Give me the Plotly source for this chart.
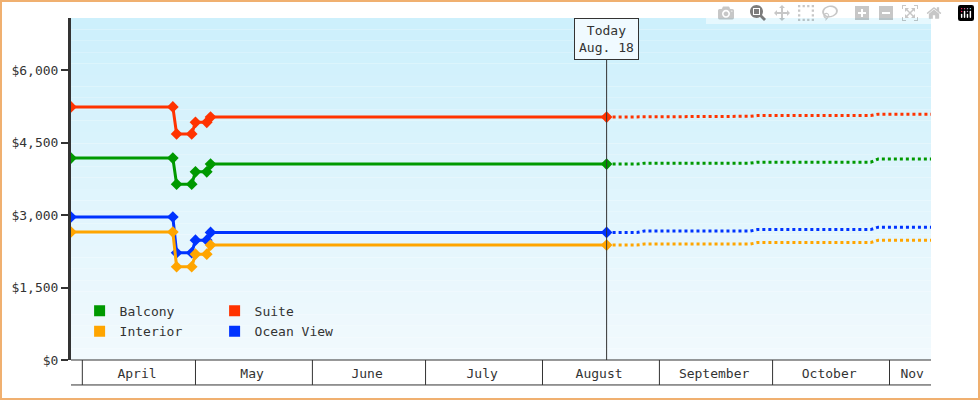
import plotly.graph_objects as go

# price history
hist_dates = ['2025-03-29', '2025-04-25', '2025-04-26', '2025-04-30', '2025-05-01', '2025-05-04', '2025-05-05', '2025-08-18']
suite = [5240, 5240, 4680, 4680, 4920, 4920, 5030, 5030]
balcony = [4180, 4180, 3640, 3640, 3895, 3895, 4055, 4055]
ocean = [2960, 2960, 2220, 2220, 2480, 2480, 2640, 2640]
interior = [2650, 2650, 1930, 1930, 2190, 2190, 2380, 2380]

# projection
proj_dates = ['2025-08-18', '2025-08-26', '2025-08-28', '2025-09-25', '2025-09-27', '2025-10-27', '2025-10-29', '2025-11-12']
suite_p = [5030, 5030, 5045, 5045, 5060, 5060, 5090, 5090]
balcony_p = [4055, 4055, 4075, 4075, 4095, 4095, 4160, 4160]
ocean_p = [2640, 2640, 2670, 2670, 2700, 2700, 2750, 2750]
interior_p = [2380, 2380, 2400, 2400, 2430, 2430, 2480, 2480]

month_starts = ['2025-04-01', '2025-05-01', '2025-06-01', '2025-07-01', '2025-08-01', '2025-09-01', '2025-10-01', '2025-11-01']
month_mids = ['2025-04-15 12:00', '2025-05-16', '2025-06-15 12:00', '2025-07-16', '2025-08-16', '2025-09-15 12:00', '2025-10-16', '2025-11-07']
month_names = ['April', 'May', 'June', 'July', 'August', 'September', 'October', 'Nov']

series = [
    ('Suite', '#ff3300', suite, suite_p),
    ('Balcony', '#009900', balcony, balcony_p),
    ('Ocean View', '#0033ff', ocean, ocean_p),
    ('Interior', '#ffa500', interior, interior_p),
]

fig = go.Figure()
for name, color, h, p in series:
    fig.add_trace(go.Scatter(x=hist_dates, y=h, mode='lines+markers', showlegend=False,
                             line=dict(color=color, width=3),
                             marker=dict(symbol='diamond', size=9, color=color)))
    fig.add_trace(go.Scatter(x=proj_dates, y=p, mode='lines', showlegend=False,
                             line=dict(color=color, width=3, dash='dot')))

for name, color, leg in [('Balcony', '#009900', 'legend'), ('Suite', '#ff3300', 'legend'),
                         ('Interior', '#ffa500', 'legend2'), ('Ocean View', '#0033ff', 'legend2')]:
    fig.add_trace(go.Scatter(x=[None], y=[None], mode='markers', name=name, legend=leg,
                             marker=dict(symbol='square', size=11, color=color)))

shapes = []
# gradient background
n = 30
top = (205, 240, 252)
bot = (242, 250, 254)
for i in range(n):
    t = i / (n - 1)
    c = tuple(int(top[k] + (bot[k] - top[k]) * t) for k in range(3))
    shapes.append(dict(type='rect', xref='paper', yref='paper', x0=0, x1=1,
                       y0=1 - (i + 1) / n, y1=1 - i / n, layer='below', line=dict(width=0),
                       fillcolor='rgb(%d,%d,%d)' % c))
# month dividers
for d in month_starts:
    shapes.append(dict(type='line', xref='x', yref='paper', x0=d, x1=d, y0=0, y1=-0.073,
                       line=dict(color='#333', width=1)))
shapes.append(dict(type='line', xref='paper', yref='paper', x0=0, x1=1, y0=-0.073, y1=-0.073,
                   line=dict(color='#333', width=1)))
shapes.append(dict(type='line', xref='paper', yref='paper', x0=0, x1=1, y0=0, y1=0,
                   line=dict(color='#333', width=1)))
# today line
shapes.append(dict(type='line', xref='x', yref='paper', x0='2025-08-18', x1='2025-08-18', y0=0, y1=1,
                   line=dict(color='#333', width=1)))
# outer border
shapes.append(dict(type='rect', xref='paper', yref='paper', x0=-70 / 860, x1=1 + 48 / 860,
                   y0=-39 / 342, y1=1 + 17 / 342, line=dict(color='#f0b070', width=2)))

fig.update_layout(
    width=980, height=400,
    margin=dict(l=71, r=49, t=18, b=40),
    paper_bgcolor='white', plot_bgcolor='rgba(0,0,0,0)',
    font=dict(family='DejaVu Sans Mono', size=13, color='#333'),
    shapes=shapes,
    xaxis=dict(type='date', range=['2025-03-29', '2025-11-12'], tickvals=month_mids,
               ticktext=month_names, showgrid=False, ticks='', zeroline=False, ticklabelstandoff=4),
    yaxis=dict(range=[0, 7080], tickvals=[0, 1500, 3000, 4500, 6000],
               ticktext=['$0', '$1,500', '$3,000', '$4,500', '$6,000'],
               showgrid=False, zeroline=False, showline=True, linewidth=3, linecolor='#333',
               ticks='outside', ticklen=7, tickwidth=2, tickcolor='#333'),
    legend=dict(orientation='h', x=0.01, y=0.1, xanchor='left', yanchor='bottom',
                entrywidth=90, bgcolor='rgba(0,0,0,0)', itemwidth=30,
                font=dict(size=13)),
    legend2=dict(orientation='h', x=0.01, y=0.04, xanchor='left', yanchor='bottom',
                 entrywidth=90, bgcolor='rgba(0,0,0,0)', itemwidth=30,
                 font=dict(size=13)),
    annotations=[dict(x='2025-08-18', y=1.0, xref='x', yref='paper', yanchor='top',
                      text='Today<br>Aug. 18', showarrow=False, bgcolor='#f0faff',
                      bordercolor='#333', borderwidth=1, borderpad=4)],
)

fig.write_html("out.html", post_script="document.body.style.margin='0';")
